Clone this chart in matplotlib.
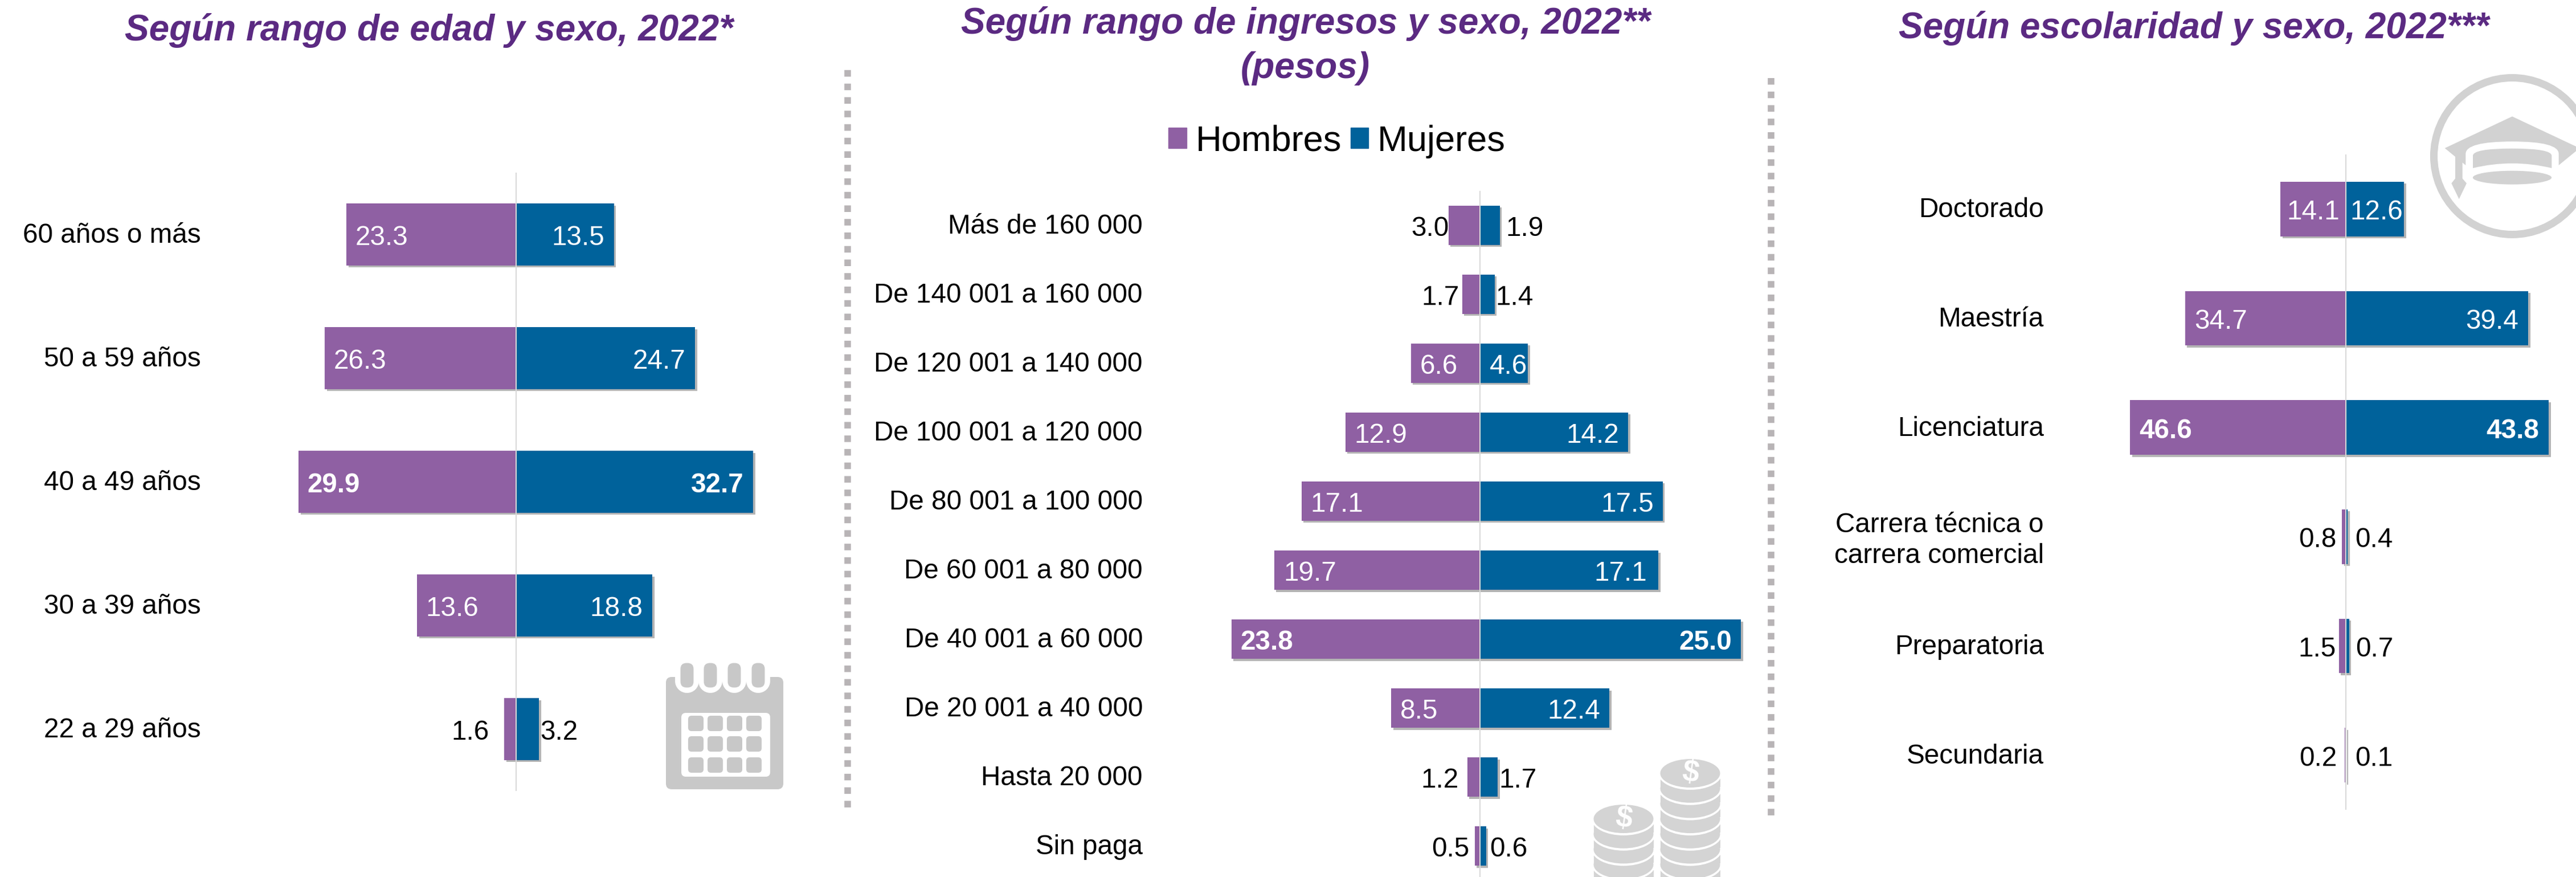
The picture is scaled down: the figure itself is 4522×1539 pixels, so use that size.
import numpy as np
import matplotlib
matplotlib.use("Agg")
import matplotlib.pyplot as plt
import matplotlib.patheffects as pe
from matplotlib.patches import Rectangle, FancyBboxPatch, Ellipse, Circle, Polygon, PathPatch, Patch
from matplotlib.path import Path
from matplotlib.transforms import ScaledTranslation

plt.rcParams['font.family'] = ['Liberation Sans', 'DejaVu Sans']

# data
age_labels = ["60 años o más", "50 a 59 años", "40 a 49 años", "30 a 39 años", "22 a 29 años"]
age_men = [23.3, 26.3, 29.9, 13.6, 1.6]
age_women = [13.5, 24.7, 32.7, 18.8, 3.2]

income_labels = ["Más de 160 000", "De 140 001 a 160 000", "De 120 001 a 140 000",
                 "De 100 001 a 120 000", "De 80 001 a 100 000", "De 60 001 a 80 000",
                 "De 40 001 a 60 000", "De 20 001 a 40 000", "Hasta 20 000", "Sin paga"]
income_men = [3.0, 1.7, 6.6, 12.9, 17.1, 19.7, 23.8, 8.5, 1.2, 0.5]
income_women = [1.9, 1.4, 4.6, 14.2, 17.5, 17.1, 25.0, 12.4, 1.7, 0.6]

school_labels = ["Doctorado", "Maestría", "Licenciatura",
                 "Carrera técnica o\ncarrera comercial", "Preparatoria", "Secundaria"]
school_men = [14.1, 34.7, 46.6, 0.8, 1.5, 0.2]
school_women = [12.6, 39.4, 43.8, 0.4, 0.7, 0.1]

# label gaps from the bar end, in pixels
age_gap_men = [15, 15, 15, 15, 26]
age_gap_women = [17, 17, 17, 17, 2]
income_gap_men = [0, 5, 16, 16, 16, 16, 16, 16, 15, 9]
income_gap_women = [11, 2, 1, 16, 16, 20, 16, 16, 2, 6]
school_gap_men = [11, 16, 16, 10, 5, 14]
school_gap_women = [2, 17, 17, 13, 11, 15]

W, H = 4522, 1539
PURPLE = '#8F60A3'
BLUE = '#00629B'
TITLE = '#5B2A82'
FONT = 34.3


def panel(fig, left, right, top, bottom, x0, scale, labels, men, women, bar_h, gap_m, gap_w):
    ax = fig.add_axes([left / W, 1 - bottom / H, (right - left) / W, (bottom - top) / H])
    ax.patch.set_alpha(0)
    ax.set_xlim((left - x0) / scale, (right - x0) / scale)
    n = len(labels)
    y = np.arange(n)
    shadow = [pe.SimplePatchShadow(offset=(2.5, -2.5), shadow_rgbFace='#777777', alpha=0.55), pe.Normal()]
    ax.barh(y, -np.array(men), height=bar_h, color=PURPLE, path_effects=shadow, zorder=2)
    ax.barh(y, women, height=bar_h, color=BLUE, path_effects=shadow, zorder=2)
    ax.axvline(0, color='#D9D9D9', lw=1.5, zorder=3)
    ax.set_ylim(n - 0.5, -0.5)
    ax.set_yticks(y)
    ax.set_yticklabels(labels, fontsize=FONT, color='black', multialignment='right', linespacing=1.25)
    ax.tick_params(axis='y', length=0, pad=0)
    ax.set_xticks([])
    up = ScaledTranslation(0, 3 / 100, fig.dpi_scale_trans)
    for lab in ax.get_yticklabels():
        lab.set_transform(lab.get_transform() + up)
    for s in ax.spines.values():
        s.set_visible(False)

    top_m = int(np.argmax(men))
    top_w = int(np.argmax(women))
    for i in range(n):
        inside = men[i] >= 4
        ax.annotate(f"{men[i]:.1f}", (-men[i], i), xytext=(gap_m[i] if inside else -gap_m[i], -1),
                    textcoords='offset pixels', ha='left' if inside else 'right', va='center_baseline',
                    fontsize=FONT, color='white' if inside else 'black',
                    fontweight='bold' if i == top_m else 'normal', zorder=4)
        inside = women[i] >= 4
        ax.annotate(f"{women[i]:.1f}", (women[i], i), xytext=(-gap_w[i] if inside else gap_w[i], -1),
                    textcoords='offset pixels', ha='right' if inside else 'left', va='center_baseline',
                    fontsize=FONT, color='white' if inside else 'black',
                    fontweight='bold' if i == top_w else 'normal', zorder=4)
    return ax


def calendar(ov):
    c = '#C8C8C8'
    ov.add_patch(FancyBboxPatch((1177, 1196), 190, 181, boxstyle="round,pad=8,rounding_size=10", fc=c, ec='none'))
    for rx in [1206, 1247, 1289, 1331]:
        ov.add_patch(Circle((rx, 1195), 21, fc='white', ec='none'))
        ov.add_patch(Rectangle((rx - 21, 1160), 42, 35, fc='white', ec='none'))
        ov.add_patch(FancyBboxPatch((rx - 1, 1174), 2, 22, boxstyle="round,pad=10.5,rounding_size=10.5", fc=c, ec='none'))
    ov.add_patch(FancyBboxPatch((1204, 1259), 140, 96, boxstyle="round,pad=8,rounding_size=8", fc='white', ec='none'))
    for cy in [1256, 1292, 1329]:
        for cx in [1208, 1242, 1276, 1310]:
            ov.add_patch(FancyBboxPatch((cx + 6, cy + 6), 15, 15, boxstyle="round,pad=6,rounding_size=6", fc=c, ec='none'))


def coins(ov):
    c = '#D4D4D4'
    for cx, cy0, layers in [(2850, 1437, 4), (2967, 1357, 7)]:
        for k in range(layers - 1, -1, -1):
            cy = cy0 + k * 26.7
            ov.add_patch(Rectangle((cx - 52.5, cy), 105, 24, fc=c, ec='none'))
            ov.add_patch(Ellipse((cx, cy), 112, 58, fc='white', ec='none'))
            ov.add_patch(Ellipse((cx, cy), 105, 50, fc=c, ec='none'))
        ov.text(cx, cy0, "$", fontsize=38, fontweight='bold', color='white', ha='center', va='center', rotation=-8)


def cap(ov):
    c = '#D2D2D2'
    ov.add_patch(Circle((4410, 274), 137.5, fc='none', ec=c, lw=9.4))

    # crop coordinates of the icon, 3x around (4240, 110)
    def p(x, y):
        return (4240 + x / 3, 110 + y / 3)

    verts = [p(510, 283), p(865, 450), p(755, 540), p(755, 480), p(755, 415), p(510, 415),
             p(265, 415), p(265, 480), p(265, 540), p(155, 450), p(510, 283)]
    codes = [Path.MOVETO, Path.LINETO, Path.LINETO, Path.LINETO, Path.CURVE3, Path.CURVE3,
             Path.CURVE3, Path.CURVE3, Path.LINETO, Path.LINETO, Path.CLOSEPOLY]
    ov.add_patch(PathPatch(Path(verts, codes), fc=c, ec='none'))
    verts = [p(303, 555), p(303, 490), p(303, 452), p(510, 452), p(718, 452), p(718, 490),
             p(718, 555), p(510, 505), p(303, 555), p(303, 555)]
    codes = [Path.MOVETO, Path.LINETO, Path.CURVE3, Path.CURVE3, Path.CURVE3, Path.CURVE3,
             Path.LINETO, Path.CURVE3, Path.CURVE3, Path.CLOSEPOLY]
    ov.add_patch(PathPatch(Path(verts, codes), fc=c, ec='none'))
    ov.add_patch(Ellipse(p(510, 605), 415 / 3, 72 / 3, fc=c, ec='none'))
    ov.add_patch(Polygon([p(210, 490), p(248, 510), p(248, 610), p(270, 635), p(230, 718),
                          p(190, 635), p(210, 610)], fc=c, ec='none'))


def main():
    fig = plt.figure(figsize=(W / 100, H / 100), dpi=100, facecolor='white')

    # pixel overlay for titles, separators and icons
    ov = fig.add_axes([0, 0, 1, 1])
    ov.set_xlim(0, W)
    ov.set_ylim(H, 0)
    ov.axis('off')

    for x, y0, y1 in [(1488, 123, 1423), (3109, 137, 1438)]:
        ov.plot([x, x], [y0, y1], color='#B8B4B6', lw=8.3, linestyle=(0, (1, 1.06)), dash_capstyle='butt')

    calendar(ov)
    coins(ov)
    cap(ov)

    title = dict(fontsize=46, fontweight='bold', fontstyle='italic', color=TITLE, ha='center', va='center')
    ov.text(753, 54, "Según rango de edad y sexo, 2022*", **title)
    ov.text(2292, 41, "Según rango de ingresos y sexo, 2022**", **title)
    ov.text(2291, 120, "(pesos)", **title)
    ov.text(3851, 49, "Según escolaridad y sexo, 2022***", **title)

    panel(fig, 353, 1480, 303, 1388, 905.5, 12.75, age_labels, age_men, age_women, 0.5,
          age_gap_men, age_gap_women)
    panel(fig, 2006, 3100, 334.5, 1545.5, 2598, 18.33, income_labels, income_men, income_women, 0.57,
          income_gap_men, income_gap_women)
    panel(fig, 3588, 4522, 271, 1421, 4118, 8.13, school_labels, school_men, school_women, 0.5,
          school_gap_men, school_gap_women)

    handles = [Patch(color=PURPLE, label="Hombres"), Patch(color=BLUE, label="Mujeres")]
    fig.legend(handles=handles, loc='center', bbox_to_anchor=(2347 / W, 1 - 248 / H), ncol=2, frameon=False,
               fontsize=45.5, handlelength=0.5, handleheight=0.5, handletextpad=0.25, columnspacing=0.25,
               borderpad=0, borderaxespad=0)

    fig.savefig("out.png", dpi=100)


if __name__ == "__main__":
    main()
